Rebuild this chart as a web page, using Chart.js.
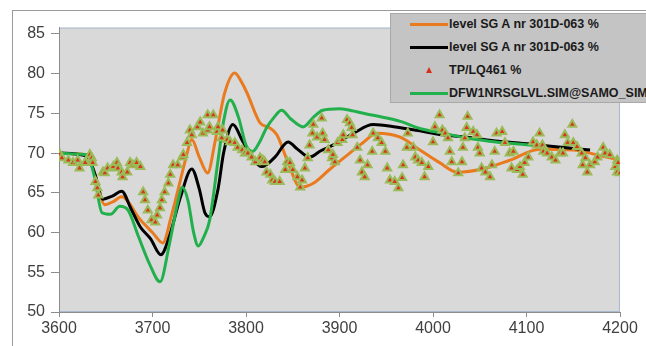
<!DOCTYPE html>
<html><head><meta charset="utf-8">
<script src="https://cdn.jsdelivr.net/npm/chart.js@4.4.0/dist/chart.umd.min.js"></script>
<style>
html,body{margin:0;padding:0;background:#fff;overflow:hidden;}
#wrap{position:relative;width:646px;height:346px;overflow:hidden;}
#frame{position:absolute;left:12px;top:10px;width:700px;height:400px;border:1px solid #9a9a9a;box-sizing:border-box;}
#c{position:absolute;left:0;top:0;}
#legend{position:absolute;left:390px;top:13px;width:270px;height:90px;background:#c4c4c4;border:1px solid #a8a8a8;box-sizing:border-box;font:bold 12.5px "Liberation Sans",Arial,sans-serif;color:#1a1a1a;}
.row{position:absolute;left:0;width:270px;height:20px;line-height:20px;white-space:nowrap;}
.sw{position:absolute;left:19px;top:8.5px;width:38px;height:3px;}
.tri{position:absolute;left:35px;top:7px;width:0;height:0;border-left:3.5px solid transparent;border-right:3.5px solid transparent;border-bottom:6px solid #d6301c;}
.tx{position:absolute;left:58px;top:0;}
</style></head>
<body>
<div id="wrap">
<div id="frame"></div>
<canvas id="c" width="646" height="346"></canvas>
<div id="legend"></div>
</div>
<script>
// ---- data ----
const seriesNames = ["level SG A nr 301D-063 %", "level SG A nr 301D-063 %", "TP/LQ461 %", "DFW1NRSGLVL.SIM@SAMO_SIM"];
const yTicks = [50, 55, 60, 65, 70, 75, 80, 85];
const xTicks = [3600, 3700, 3800, 3900, 4000, 4100, 4200];

const orangeX = [3601,3630,3638,3649,3658,3667,3687,3700,3711,3720,3729,3736,3742,3750,3759,3767,3777,3788,3795,3801,3815,3825,3833,3845,3858,3872,3890,3911,3925,3940,3965,3986,4007,4026,4053,4082,4114,4150,4175,4200];
const orangeY = [70.0,69.8,67.5,63.5,63.9,64.5,61.6,60.0,58.7,62.0,66.2,69.5,71.7,69.5,67.5,71.5,77.5,80.1,79.0,77.6,73.8,73.2,72.3,68.8,65.7,66.2,68.0,70.0,71.3,72.5,72.0,70.4,68.8,67.6,68.0,69.1,70.5,70.4,69.8,69.1];

const blackX = [3601,3630,3638,3647,3657,3667,3677,3687,3698,3709,3718,3730,3742,3750,3756,3761,3770,3776,3786,3796,3806,3817,3831,3845,3855,3868,3880,3893,3915,3936,3960,3986,4010,4036,4070,4107,4140,4168];
const blackY = [70.0,69.6,67.5,64.2,64.6,65.2,63.0,60.7,59.2,57.2,59.5,64.5,68.0,65.5,62.5,62.0,65.4,70.0,73.6,71.6,69.5,68.3,69.5,71.4,70.5,69.5,70.3,71.0,72.5,73.6,73.3,72.8,72.3,72.0,71.5,71.1,70.7,70.4];

const greenX = [3601,3615,3630,3638,3646,3655,3665,3674,3685,3697,3708,3718,3727,3732,3738,3744,3749,3755,3761,3770,3776,3783,3792,3800,3807,3815,3822,3830,3838,3848,3861,3872,3882,3900,3911,3930,3943,3965,3986,4011,4036,4060,4085,4107];
const greenY = [70.0,69.9,69.8,67.0,62.5,62.3,63.3,62.8,59.5,56.0,53.8,58.5,63.8,65.7,64.0,60.0,58.3,59.5,61.5,69.0,74.0,76.7,74.5,71.0,70.2,71.5,73.2,74.5,75.4,74.3,73.3,74.5,75.4,75.6,75.4,74.9,74.6,74.0,73.1,72.5,71.9,71.5,71.2,71.0];

const tpX = [3601,3603,3610,3615,3620,3622,3628,3633,3635,3636,3639,3641,3642,3647,3649,3652,3658,3662,3663,3667,3668,3673,3676,3679,3683,3687,3690,3692,3695,3699,3703,3705,3708,3710,3713,3717,3719,3722,3727,3732,3733,3737,3740,3742,3748,3751,3754,3759,3759,3761,3765,3769,3770,3774,3775,3780,3783,3788,3791,3796,3799,3802,3806,3810,3815,3818,3820,3822,3826,3828,3831,3836,3842,3844,3847,3850,3855,3858,3860,3863,3866,3868,3871,3872,3876,3881,3882,3884,3888,3892,3893,3895,3898,3903,3904,3908,3911,3913,3914,3919,3922,3924,3927,3930,3935,3936,3941,3945,3949,3951,3954,3959,3963,3967,3968,3972,3973,3979,3981,3984,3988,3991,3995,4000,4002,4007,4010,4013,4016,4018,4020,4027,4031,4032,4034,4036,4037,4043,4047,4048,4050,4052,4056,4061,4063,4066,4068,4074,4077,4082,4084,4086,4090,4093,4096,4098,4102,4107,4111,4114,4117,4118,4122,4127,4131,4136,4139,4141,4144,4149,4150,4154,4159,4160,4163,4165,4168,4173,4176,4182,4184,4189,4195,4197,4197,4198,4200];
const tpY = [69.8,69.4,69.1,68.8,69.1,68.1,68.8,69.8,69.4,68.8,66.4,65.6,64.7,67.6,67.5,68.1,68.3,68.8,68.1,67.6,67.0,67.6,68.8,68.5,68.8,68.3,65.1,64.1,62.8,61.6,61.3,62.2,63.1,64.1,65.1,66.2,67.3,68.5,68.5,69.5,69.8,71.3,72.9,72.3,73.3,73.9,72.5,74.8,72.9,73.3,74.8,72.7,73.3,71.9,72.9,71.7,71.4,71.3,70.7,70.4,70.0,70.0,69.5,68.9,69.4,69.1,68.9,67.6,67.3,66.6,66.4,66.4,67.9,68.9,68.8,67.9,67.0,65.7,66.6,68.1,69.4,71.0,72.5,73.6,72.0,74.4,72.5,71.7,70.4,69.4,69.8,68.9,71.3,71.7,72.3,74.2,73.8,73.2,72.3,70.7,69.1,67.6,67.0,68.5,70.2,72.5,71.9,71.3,70.2,68.1,66.6,66.4,65.6,66.9,68.5,70.7,72.5,70.7,69.5,69.1,68.8,67.0,68.3,71.4,73.3,74.8,72.9,72.5,71.9,70.2,68.9,67.5,68.9,70.7,71.9,73.2,74.6,72.7,72.3,70.7,70.0,68.1,67.6,67.0,68.5,70.2,72.5,72.7,71.3,70.0,68.1,70.2,67.9,68.3,67.3,68.8,69.5,71.4,71.0,72.5,71.0,70.2,70.0,69.5,69.1,70.0,70.0,72.3,71.3,73.6,71.3,70.8,70.0,68.5,69.4,67.6,68.5,68.9,69.5,70.7,70.0,69.8,68.3,69.1,67.6,68.8,67.5];

const ORANGE = '#ea7a1e', BLACK = '#000000', GREEN = '#21b04c', TP_FILL = '#d8361c', TP_EDGE = '#9bbb59';

// ---- legend (HTML) ----
const legendEl = document.getElementById('legend');
const swatches = [ORANGE, BLACK, null, GREEN];
const rowTops = [0, 23, 46, 69];
seriesNames.forEach((name, i) => {
  const r = document.createElement('div');
  r.className = 'row';
  r.style.top = rowTops[i] + 'px';
  if (swatches[i]) {
    const s = document.createElement('div'); s.className = 'sw'; s.style.background = swatches[i]; r.appendChild(s);
  } else {
    const t = document.createElement('div'); t.className = 'tri'; r.appendChild(t);
  }
  const tx = document.createElement('span'); tx.className = 'tx'; tx.textContent = name; r.appendChild(tx);
  legendEl.appendChild(r);
});

// ---- chart ----
const pts = (xs, ys) => xs.map((x, i) => ({x: x, y: ys[i]}));

const plotBg = {
  id: 'plotBg',
  beforeDraw(chart) {
    const {ctx, chartArea: a} = chart;
    ctx.save();
    ctx.fillStyle = '#d9d9d9';
    ctx.fillRect(a.left, a.top, a.right - a.left, a.bottom - a.top);
    ctx.strokeStyle = '#a9b9cf';
    ctx.lineWidth = 1;
    ctx.strokeRect(a.left + 0.5, a.top + 0.5, a.right - a.left - 1, a.bottom - a.top - 1);
    ctx.restore();
  }
};

const lineDs = (label, xs, ys, color, order) => ({
  label: label, data: pts(xs, ys), borderColor: color, backgroundColor: color,
  borderWidth: 3, pointRadius: 0, showLine: true, fill: false,
  cubicInterpolationMode: 'monotone', order: order
});

new Chart(document.getElementById('c'), {
  type: 'scatter',
  data: {
    datasets: [
      lineDs(seriesNames[0], orangeX, orangeY, ORANGE, 3),
      lineDs(seriesNames[1], blackX, blackY, BLACK, 2),
      {
        label: seriesNames[2], data: pts(tpX, tpY), showLine: false,
        pointStyle: 'triangle', pointRadius: 4.6, borderWidth: 2,
        borderColor: TP_EDGE, backgroundColor: TP_FILL, order: 0
      },
      lineDs(seriesNames[3], greenX, greenY, GREEN, 1)
    ]
  },
  options: {
    responsive: false, animation: false, devicePixelRatio: 1,
    layout: {padding: {top: 27.6, right: 26, left: 0, bottom: 0}},
    plugins: {legend: {display: false}, tooltip: {enabled: false}},
    events: [],
    scales: {
      x: {
        type: 'linear', min: 3600, max: 4200,
        afterBuildTicks: s => { s.ticks = xTicks.map(v => ({value: v})); },
        afterFit: s => { s.height = 34; },
        ticks: {font: {family: 'Liberation Sans', size: 16}, color: '#404040', padding: 2, maxRotation: 0, callback: v => String(v)},
        grid: {drawOnChartArea: false, tickLength: 5, color: '#8c8c8c'},
        border: {color: '#8c8c8c'}
      },
      y: {
        min: 50, max: 85.8,
        afterBuildTicks: s => { s.ticks = yTicks.map(v => ({value: v})); },
        afterFit: s => { s.width = 59; },
        ticks: {font: {family: 'Liberation Sans', size: 16}, color: '#404040', padding: 6, callback: v => String(v)},
        grid: {drawOnChartArea: false, tickLength: 8, color: '#8c8c8c'},
        border: {color: '#8c8c8c'}
      }
    }
  },
  plugins: [plotBg]
});
</script>
</body></html>
